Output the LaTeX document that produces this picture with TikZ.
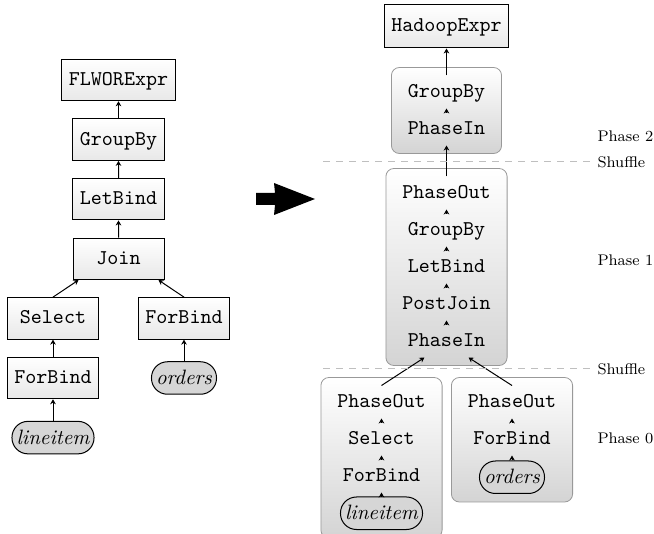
\documentclass[tikz,border=0pt]{standalone}
\usepackage{tikz}
\usetikzlibrary{positioning,fit,backgrounds,arrows.meta}
\newcommand\opfont{\fontsize{10.5}{12}\selectfont\ttfamily}
\newcommand\srcfont{\fontsize{10.4}{12}\selectfont\itshape}
\newcommand\lblfont{\fontsize{7.7}{10}\selectfont}
\tikzset{
  op/.style={draw, rectangle, top color=white, bottom color=black!9, font=\opfont,
    text height=7.5pt, text depth=2pt, inner xsep=3.5pt, minimum width=45.5pt, minimum height=20.75pt},
  src/.style={draw, rounded corners=8pt, fill=black!16, font=\srcfont,
    text height=7pt, text depth=0.5pt, inner xsep=2.3pt, minimum height=16.25pt},
  stage/.style={font=\opfont, text height=7.5pt, text depth=2pt, inner sep=0pt, minimum height=16pt},
  phase/.style={draw=black!40, rounded corners=4pt, top color=white, bottom color=black!17,
    inner xsep=8pt, inner ysep=4pt},
  flow/.style={-{Stealth[length=2.5pt,width=2.8pt]}},
  shuffle/.style={draw=black!25, dash pattern=on 3.5pt off 3pt},
  lbl/.style={font=\lblfont, anchor=west, inner sep=0pt}
}
\begin{document}
\begin{tikzpicture}[x=0.5pt, y=-0.5pt, line width=0.5pt,
      level distance=29.8pt,
      level 4/.style={sibling distance=65.5pt},
      level 5/.style={edge from parent path={(\tikzparentnode\tikzparentanchor) -- (\tikzchildnode\tikzchildanchor)}},
      parent anchor=south, child anchor=north,
      edge from parent/.style={draw,{Stealth[length=2.5pt,width=2.8pt]}-}]
  \useasboundingbox (0,0) rectangle (654,534);

  % query plan before
  \node[op] (flwor) at (118.5,80) {FLWORExpr}
    child {node[op] (lgroup) {GroupBy}
      child {node[op] (llet) {LetBind}
        child {node[op] (ljoin) {Join}
          child[edge from parent path={([xshift=3pt]\tikzparentnode.south west) -- (\tikzchildnode.north)}]
            {node[op] (lselect) {Select}
              child {node[op] (lforl) {ForBind}
                child {node[src] (lline) {lineitem}}}}
          child[edge from parent path={([xshift=-3pt]\tikzparentnode.south east) -- (\tikzchildnode.north)}]
            {node[op] (lforr) {ForBind}
              child {node[src] (lord) {orders}}}}}};

  % rewrite arrow
  \fill (256,193) -- (275,193) -- (274,183) -- (315,199) -- (274,215) -- (275,205) -- (256,205) -- cycle;

  % query plan after
  \node[op, minimum height=21.5pt] (hadoop) at (446.5,26.5) {HadoopExpr};

  \node[stage] (p2group) at (446.5,92) {GroupBy};
  \node[stage, below=2pt of p2group] (p2in) {PhaseIn};

  \node[stage] (p1out) at (446.5,193) {PhaseOut};
  \node[stage, below=2pt of p1out] (p1group) {GroupBy};
  \node[stage, below=2pt of p1group] (p1let) {LetBind};
  \node[stage, below=2pt of p1let] (p1post) {PostJoin};
  \node[stage, below=2pt of p1post] (p1in) {PhaseIn};

  \node[stage] (p0lout) at (381.5,402) {PhaseOut};
  \node[stage, below=2pt of p0lout] (p0lsel) {Select};
  \node[stage, below=2pt of p0lsel] (p0lfor) {ForBind};
  \node[src, below=2pt of p0lfor] (p0lline) {lineitem};

  \node[stage] (p0rout) at (512,402) {PhaseOut};
  \node[stage, below=2pt of p0rout] (p0rfor) {ForBind};
  \node[src, below=2.5pt of p0rfor] (p0rord) {orders};

  \begin{scope}[on background layer]
    \node[phase, fit=(p2group)(p2in)] (ph2) {};
    \node[phase, fit=(p1out)(p1post)(p1in)] (ph1) {};
    \node[phase, fit=(p0lout)(p0lline)] (ph0l) {};
    \node[phase, fit=(p0rout)(p0rord)] (ph0r) {};
  \end{scope}

  \draw[flow] (p2in) -- (p2group);
  \draw[flow] (p2group) -- (hadoop);
  \draw[flow] (p1out) -- (p2in);
  \foreach \a/\b in {p1in/p1post, p1post/p1let, p1let/p1group, p1group/p1out,
      p0lline/p0lfor, p0lfor/p0lsel, p0lsel/p0lout, p0rord/p0rfor, p0rfor/p0rout}
    \draw[flow] (\a) -- (\b);
  \draw[flow] (p0lout.north) -- ([xshift=-11pt]p1in.south);
  \draw[flow] (p0rout.north) -- ([xshift=11pt]p1in.south);

  % phase boundaries
  \draw[shuffle] (323,162) -- (592,162) node[lbl, xshift=2.5pt] (shuf2) {Shuffle};
  \draw[shuffle] (323,369) -- (592,369) node[lbl, xshift=2.5pt] (shuf1) {Shuffle};
  \node[lbl] (lbl2) at (597,136) {Phase 2};
  \node[lbl] (lbl1) at (597,260) {Phase 1};
  \node[lbl] (lbl0) at (597,438) {Phase 0};
\end{tikzpicture}
\end{document}
